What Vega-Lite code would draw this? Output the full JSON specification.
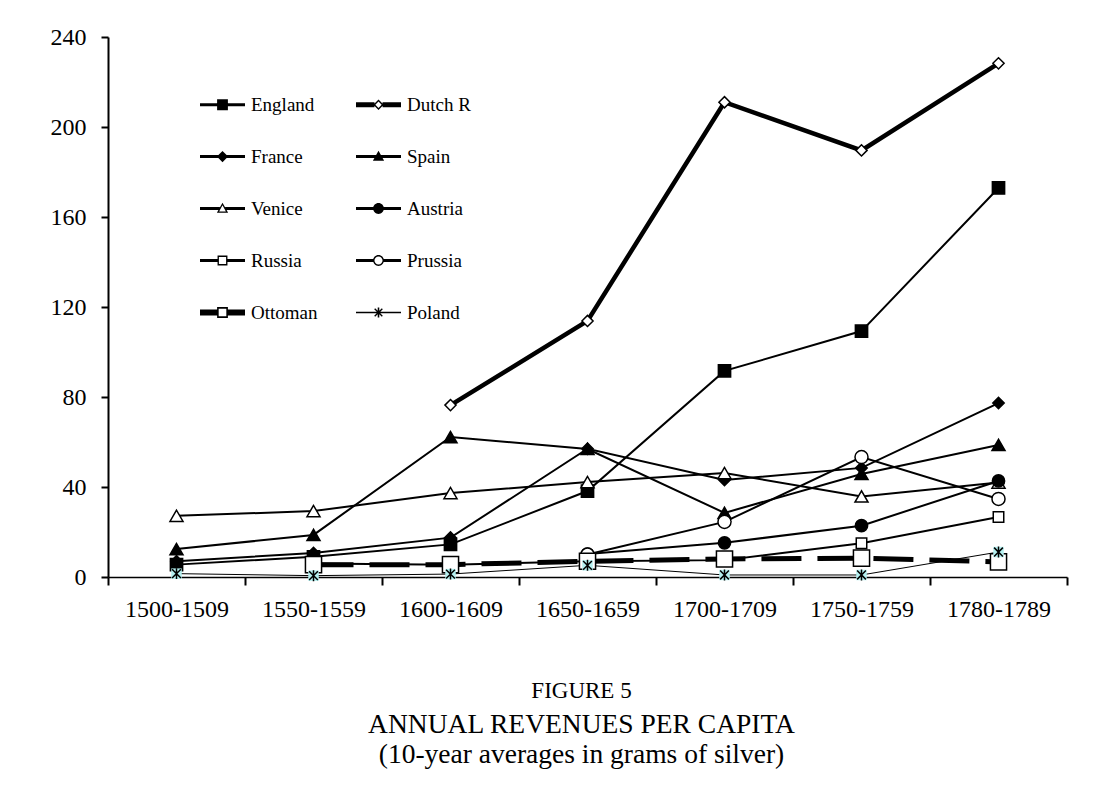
{
  "$schema": "https://vega.github.io/schema/vega-lite/v6.json",
  "autosize": "none",
  "width": 959,
  "height": 540,
  "padding": {"left": 108, "top": 37, "right": 27, "bottom": 209},
  "background": "white",
  "title": {
    "text": "FIGURE 5",
    "subtitle": ["ANNUAL REVENUES PER CAPITA", "(10-year averages in grams of silver)"],
    "orient": "bottom",
    "anchor": "middle",
    "frame": "group",
    "offset": 59,
    "dx": -6,
    "font": "Liberation Serif",
    "fontSize": 23,
    "fontWeight": "normal",
    "color": "black",
    "subtitleFont": "Liberation Serif",
    "subtitleFontSize": 27.5,
    "subtitleColor": "black",
    "subtitleLineHeight": 30,
    "subtitlePadding": 8
  },
  "data": {
    "values": [
      {"country": "England", "decade": "1500-1509", "value": 5.5},
      {"country": "England", "decade": "1550-1559", "value": 9},
      {"country": "England", "decade": "1600-1609", "value": 14.5},
      {"country": "England", "decade": "1650-1659", "value": 38.2},
      {"country": "England", "decade": "1700-1709", "value": 91.6},
      {"country": "England", "decade": "1750-1759", "value": 109.3},
      {"country": "England", "decade": "1780-1789", "value": 172.9},
      {"country": "Dutch R", "decade": "1600-1609", "value": 76.4},
      {"country": "Dutch R", "decade": "1650-1659", "value": 113.8},
      {"country": "Dutch R", "decade": "1700-1709", "value": 211},
      {"country": "Dutch R", "decade": "1750-1759", "value": 189.6},
      {"country": "Dutch R", "decade": "1780-1789", "value": 228.3},
      {"country": "France", "decade": "1500-1509", "value": 7},
      {"country": "France", "decade": "1550-1559", "value": 10.7},
      {"country": "France", "decade": "1600-1609", "value": 17.5},
      {"country": "France", "decade": "1650-1659", "value": 57},
      {"country": "France", "decade": "1700-1709", "value": 43.1},
      {"country": "France", "decade": "1750-1759", "value": 48.5},
      {"country": "France", "decade": "1780-1789", "value": 77.3},
      {"country": "Spain", "decade": "1500-1509", "value": 12.4},
      {"country": "Spain", "decade": "1550-1559", "value": 18.7},
      {"country": "Spain", "decade": "1600-1609", "value": 62.2},
      {"country": "Spain", "decade": "1650-1659", "value": 56.9},
      {"country": "Spain", "decade": "1700-1709", "value": 28.5},
      {"country": "Spain", "decade": "1750-1759", "value": 45.8},
      {"country": "Spain", "decade": "1780-1789", "value": 58.7},
      {"country": "Venice", "decade": "1500-1509", "value": 27.2},
      {"country": "Venice", "decade": "1550-1559", "value": 29.3},
      {"country": "Venice", "decade": "1600-1609", "value": 37.3},
      {"country": "Venice", "decade": "1650-1659", "value": 42.2},
      {"country": "Venice", "decade": "1700-1709", "value": 46.2},
      {"country": "Venice", "decade": "1750-1759", "value": 35.8},
      {"country": "Venice", "decade": "1780-1789", "value": 42},
      {"country": "Austria", "decade": "1650-1659", "value": 10.2},
      {"country": "Austria", "decade": "1700-1709", "value": 15.2},
      {"country": "Austria", "decade": "1750-1759", "value": 22.8},
      {"country": "Austria", "decade": "1780-1789", "value": 42.7},
      {"country": "Russia", "decade": "1550-1559", "value": 6},
      {"country": "Russia", "decade": "1600-1609", "value": 5.5},
      {"country": "Russia", "decade": "1650-1659", "value": 7},
      {"country": "Russia", "decade": "1700-1709", "value": 7.5},
      {"country": "Russia", "decade": "1750-1759", "value": 15},
      {"country": "Russia", "decade": "1780-1789", "value": 26.7},
      {"country": "Prussia", "decade": "1650-1659", "value": 10},
      {"country": "Prussia", "decade": "1700-1709", "value": 24.5},
      {"country": "Prussia", "decade": "1750-1759", "value": 53.3},
      {"country": "Prussia", "decade": "1780-1789", "value": 34.7},
      {"country": "Ottoman", "decade": "1550-1559", "value": 5.5},
      {"country": "Ottoman", "decade": "1600-1609", "value": 5.5},
      {"country": "Ottoman", "decade": "1650-1659", "value": 7},
      {"country": "Ottoman", "decade": "1700-1709", "value": 8},
      {"country": "Ottoman", "decade": "1750-1759", "value": 8.4},
      {"country": "Ottoman", "decade": "1780-1789", "value": 6.7},
      {"country": "Poland", "decade": "1500-1509", "value": 1.5},
      {"country": "Poland", "decade": "1550-1559", "value": 0.6},
      {"country": "Poland", "decade": "1600-1609", "value": 1.3},
      {"country": "Poland", "decade": "1650-1659", "value": 5.2},
      {"country": "Poland", "decade": "1700-1709", "value": 0.9},
      {"country": "Poland", "decade": "1750-1759", "value": 0.9},
      {"country": "Poland", "decade": "1780-1789", "value": 11.1}
    ]
  },
  "encoding": {
    "x": {
      "field": "decade",
      "type": "ordinal",
      "scale": {
        "type": "band",
        "paddingInner": 0,
        "paddingOuter": 0,
        "domain": ["1500-1509", "1550-1559", "1600-1609", "1650-1659", "1700-1709", "1750-1759", "1780-1789"]
      },
      "axis": {
        "title": null,
        "tickBand": "extent",
        "labelAngle": 0,
        "tickSize": 8,
        "tickWidth": 2,
        "domainWidth": 1.5,
        "labelPadding": 12
      }
    },
    "y": {
      "field": "value",
      "type": "quantitative",
      "scale": {"domain": [0, 240], "nice": false},
      "axis": {
        "title": null,
        "values": [0, 40, 80, 120, 160, 200, 240],
        "tickSize": 7,
        "tickWidth": 2,
        "domainWidth": 2,
        "labelPadding": 15
      }
    }
  },
  "layer": [
    {
      "transform": [{"filter": "datum.country == 'Poland'"}],
      "mark": {"type": "line", "color": "black", "strokeWidth": 1},
      "encoding": {"detail": {"field": "country"}}
    },
    {
      "transform": [{"filter": "datum.country != 'Poland' && datum.country != 'Dutch R' && datum.country != 'Ottoman'"}],
      "mark": {"type": "line", "color": "black", "strokeWidth": 2},
      "encoding": {"detail": {"field": "country"}}
    },
    {
      "transform": [{"filter": "datum.country == 'Ottoman'"}],
      "mark": {"type": "line", "color": "black", "strokeWidth": 5, "strokeDash": [40, 16]},
      "encoding": {"detail": {"field": "country"}}
    },
    {
      "transform": [{"filter": "datum.country == 'Dutch R'"}],
      "mark": {"type": "line", "color": "black", "strokeWidth": 4.5},
      "encoding": {"detail": {"field": "country"}}
    },
    {
      "transform": [{"filter": "datum.country != 'Poland'"}],
      "mark": {"type": "point", "filled": true, "stroke": "black", "strokeWidth": 1.5, "opacity": 1},
      "encoding": {
        "shape": {
          "field": "country",
          "type": "nominal",
          "scale": {
            "domain": ["England", "Dutch R", "France", "Spain", "Venice", "Austria", "Russia", "Prussia", "Ottoman"],
            "range": ["square", "diamond", "diamond", "triangle-up", "triangle-up", "circle", "square", "circle", "square"]
          },
          "legend": null
        },
        "fill": {
          "field": "country",
          "type": "nominal",
          "scale": {
            "domain": ["England", "Dutch R", "France", "Spain", "Venice", "Austria", "Russia", "Prussia", "Ottoman"],
            "range": ["black", "white", "black", "black", "white", "black", "white", "white", "white"]
          },
          "legend": null
        },
        "size": {
          "field": "country",
          "type": "nominal",
          "scale": {
            "type": "ordinal",
            "domain": ["England", "Dutch R", "France", "Spain", "Venice", "Austria", "Russia", "Prussia", "Ottoman"],
            "range": [150, 125, 130, 170, 170, 150, 110, 170, 260]
          },
          "legend": null
        }
      }
    },
    {
      "transform": [{"filter": "datum.country == 'Poland'"}],
      "mark": {"type": "point", "shape": "square", "filled": true, "color": "#b4f0f0", "strokeWidth": 0, "size": 110, "opacity": 1}
    },
    {
      "transform": [{"filter": "datum.country == 'Poland'"}],
      "mark": {"type": "point", "shape": "M-0.8,-0.8L0.8,0.8M0.8,-0.8L-0.8,0.8M0,-1L0,1", "filled": false, "color": "black", "strokeWidth": 1.5, "size": 120, "opacity": 1}
    },
    {
      "transform": [{"filter": "false"}],
      "mark": {"type": "point", "filled": true, "color": "black", "strokeWidth": 0, "opacity": 1},
      "encoding": {
        "shape": {
          "field": "country",
          "type": "nominal",
          "scale": {
            "domain": ["England", "France", "Venice", "Russia", "Ottoman", "Dutch R", "Spain", "Austria", "Prussia", "Poland"],
            "range": [
              "M-1,-0.07H1V0.07H-1Z M-0.24,-0.24H0.24V0.24H-0.24Z",
              "M-1,-0.07H1V0.07H-1Z M0,-0.25L0.25,0L0,0.25L-0.25,0Z",
              "M-1,-0.07H-0.12V0.07H-1Z M0.12,-0.07H1V0.07H0.12Z M0,-0.26L0.25,0.19H-0.25Z M0,-0.14L-0.15,0.13H0.15Z",
              "M-1,-0.07H-0.2V0.07H-1Z M0.2,-0.07H1V0.07H0.2Z M-0.22,-0.22H0.22V0.22H-0.22Z M-0.16,-0.16V0.16H0.16V-0.16Z",
              "M-1,-0.13H-0.22V0.13H-1Z M0.22,-0.13H1V0.13H0.22Z M-0.24,-0.24H0.24V0.24H-0.24Z M-0.17,-0.17V0.17H0.17V-0.17Z",
              "M-1,-0.11H-0.18V0.11H-1Z M0.18,-0.11H1V0.11H0.18Z M0,-0.23L0.23,0L0,0.23L-0.23,0Z M0,-0.14L-0.14,0L0,0.14L0.14,0Z",
              "M-1,-0.07H1V0.07H-1Z M0,-0.26L0.25,0.19H-0.25Z",
              "M-1,-0.07H1V0.07H-1Z M-0.24,0A0.24,0.24 0 1,1 0.24,0A0.24,0.24 0 1,1 -0.24,0Z",
              "M-1,-0.07H-0.21V0.07H-1Z M0.21,-0.07H1V0.07H0.21Z M-0.24,0A0.24,0.24 0 1,1 0.24,0A0.24,0.24 0 1,1 -0.24,0Z M-0.18,0A0.18,0.18 0 1,0 0.18,0A0.18,0.18 0 1,0 -0.18,0Z",
              "M-1,-0.035H1V0.035H-1Z M-0.035,-0.22H0.035V0.22H-0.035Z M-0.149,-0.191L0.191,0.149L0.149,0.191L-0.191,-0.149Z M0.191,-0.149L-0.149,0.191L-0.191,0.149L0.149,-0.191Z"
            ]
          },
          "legend": {
            "title": null,
            "orient": "none",
            "legendX": 92,
            "legendY": 45,
            "columns": 2,
            "columnPadding": 38,
            "rowPadding": 19,
            "padding": 0,
            "symbolSize": 2025,
            "symbolFillColor": "black",
            "symbolStrokeWidth": 0,
            "symbolOpacity": 1,
            "labelFont": "Liberation Serif",
            "labelFontSize": 19,
            "labelColor": "black",
            "labelOffset": 6
          }
        }
      }
    }
  ],
  "resolve": {"scale": {"shape": "independent"}},
  "config": {
    "view": {"stroke": null},
    "axis": {
      "grid": false,
      "domainColor": "black",
      "tickColor": "black",
      "labelColor": "black",
      "labelFont": "Liberation Serif",
      "labelFontSize": 24
    }
  }
}
